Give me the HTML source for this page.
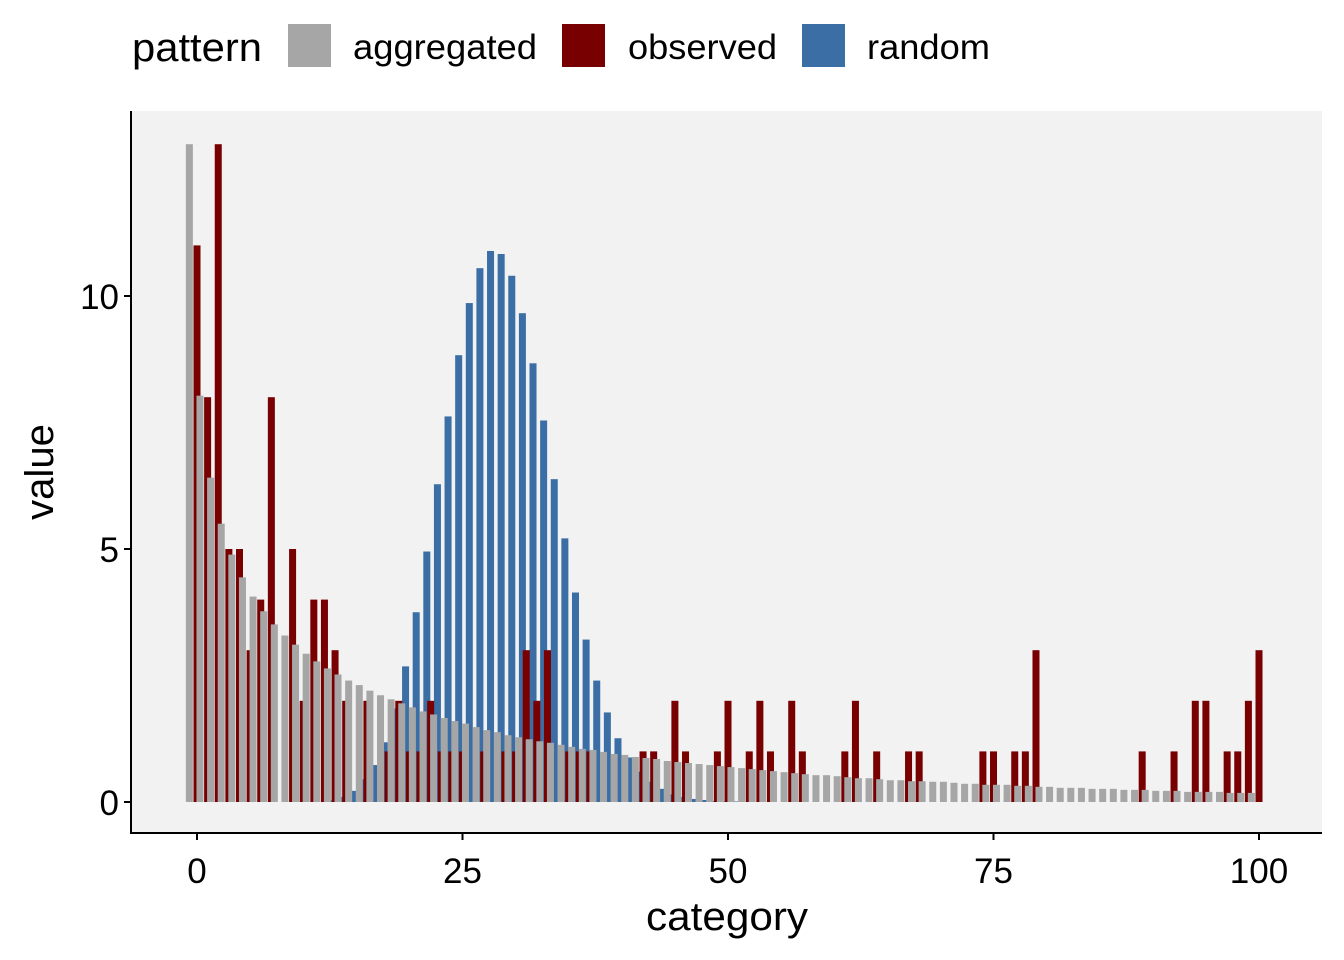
<!DOCTYPE html>
<html><head><meta charset="utf-8"><style>
html,body{margin:0;padding:0;background:#fff;}
svg{display:block;font-family:"Liberation Sans",Arial,sans-serif;}
</style></head><body>
<svg id="chart" width="1344" height="960" viewBox="0 0 1344 960" xmlns="http://www.w3.org/2000/svg">
<rect x="0" y="0" width="1344" height="960" fill="#ffffff"/>
<g>
<text x="132" y="61" font-size="40" fill="#000" textLength="130" lengthAdjust="spacingAndGlyphs">pattern</text>
<g><rect x="288" y="24" width="43" height="43" fill="#A6A6A6"/><text x="353" y="59" font-size="35" fill="#000" textLength="184" lengthAdjust="spacingAndGlyphs">aggregated</text></g>
<g><rect x="562" y="24" width="43" height="43" fill="#780000"/><text x="628" y="59" font-size="35" fill="#000" textLength="149" lengthAdjust="spacingAndGlyphs">observed</text></g>
<g><rect x="802" y="24" width="43" height="43" fill="#3A6EA5"/><text x="867" y="59" font-size="35" fill="#000" textLength="123" lengthAdjust="spacingAndGlyphs">random</text></g>
</g>
<rect x="131" y="111" width="1191" height="722" fill="#F2F2F2"/>
<g id="bars"></g>
<line x1="131" y1="111" x2="131" y2="834" stroke="#000" stroke-width="2"/>
<line x1="130" y1="833" x2="1322" y2="833" stroke="#000" stroke-width="2"/>
<g id="axes"></g>
<text x="727" y="930" font-size="40" text-anchor="middle" fill="#000" textLength="162" lengthAdjust="spacingAndGlyphs">category</text>
<text x="0" y="0" font-size="40" text-anchor="middle" fill="#000" transform="translate(53,472) rotate(-90)">value</text>
</svg>
<script>
const categories = Array.from({length:101},(_,i)=>i);
const aggregated = [13.0,8.03,6.41,5.50,4.89,4.44,4.06,3.77,3.51,3.29,3.11,2.93,2.78,2.64,2.52,2.40,2.31,2.20,2.11,2.03,1.95,1.87,1.79,1.73,1.66,1.60,1.55,1.48,1.42,1.38,1.32,1.28,1.24,1.20,1.17,1.13,1.09,1.05,1.03,0.99,0.95,0.93,0.89,0.87,0.85,0.81,0.79,0.77,0.75,0.73,0.71,0.69,0.67,0.65,0.63,0.61,0.59,0.57,0.55,0.53,0.53,0.51,0.49,0.47,0.47,0.45,0.43,0.43,0.41,0.41,0.40,0.40,0.38,0.36,0.36,0.34,0.34,0.34,0.32,0.32,0.30,0.30,0.28,0.28,0.28,0.26,0.26,0.26,0.24,0.24,0.24,0.22,0.22,0.22,0.20,0.20,0.20,0.20,0.18,0.18,0.18];
const observed = [11,8,13,5,5,3,4,8,0,5,2,4,4,3,2,0,2,0,1,2,1,1,2,1,1,1,0,1,0,1,1,3,2,3,0,1,1,1,0,0,0,0,1,1,0,2,1,0,0,1,2,0,1,2,1,0,2,1,0,0,0,1,2,0,1,0,0,1,1,0,0,0,0,0,1,1,0,1,1,3,0,0,0,0,0,0,0,0,0,1,0,0,1,0,2,2,0,1,1,2,3];
const random = [0,0,0,0,0,0,0,0,0,0,0,0,0,0.03,0.1,0.22,0.45,0.73,1.18,1.85,2.68,3.75,4.95,6.28,7.62,8.83,9.86,10.55,10.89,10.83,10.40,9.66,8.67,7.54,6.38,5.21,4.14,3.21,2.40,1.77,1.26,0.88,0.6,0.4,0.26,0.15,0.1,0.06,0.04,0.02,0.01,0.01,0,0,0,0,0,0,0,0,0,0,0,0,0,0,0,0,0,0,0,0,0,0,0,0,0,0,0,0,0,0,0,0,0,0,0,0,0,0,0,0,0,0,0,0,0,0,0,0,0];
const xTicks = [0,25,50,75,100];
const yTicks = [0,5,10];

const NS="http://www.w3.org/2000/svg";
const xScale = v => 197 + v*10.62;
const yScale = v => 802 - v*50.6;
const bw = 0.66;
const bars = document.getElementById('bars');
function bar(c, off, v, color, name){
  if(v<=0) return;
  const r=document.createElementNS(NS,'rect');
  const x0=xScale(c+off-bw/2), x1=xScale(c+off+bw/2);
  r.setAttribute('x',x0.toFixed(2));
  r.setAttribute('width',(x1-x0).toFixed(2));
  r.setAttribute('y',yScale(v).toFixed(2));
  r.setAttribute('height',(yScale(0)-yScale(v)).toFixed(2));
  r.setAttribute('fill',color);
  
  
  bars.appendChild(r);
}
categories.forEach((c,i)=>bar(c,-0.36,random[i],'#3A6EA5','bar-random-'+c));
categories.forEach((c,i)=>bar(c,0,observed[i],'#780000','bar-observed-'+c));
categories.forEach((c,i)=>bar(c,-0.72,aggregated[i],'#A6A6A6','bar-aggregated-'+c));

const axes=document.getElementById('axes');
xTicks.forEach(t=>{
  const l=document.createElementNS(NS,'line');
  l.setAttribute('x1',xScale(t));l.setAttribute('x2',xScale(t));
  l.setAttribute('y1',833);l.setAttribute('y2',840);
  l.setAttribute('stroke','#000');l.setAttribute('stroke-width','2');
  
  
  axes.appendChild(l);
  const tx=document.createElementNS(NS,'text');
  tx.setAttribute('x',xScale(t));tx.setAttribute('y',883);
  tx.setAttribute('font-size','35');tx.setAttribute('text-anchor','middle');tx.setAttribute('fill','#000');
  tx.textContent=t;
  
  
  axes.appendChild(tx);
});
yTicks.forEach(t=>{
  const l=document.createElementNS(NS,'line');
  l.setAttribute('x1',124);l.setAttribute('x2',131);
  l.setAttribute('y1',yScale(t));l.setAttribute('y2',yScale(t));
  l.setAttribute('stroke','#000');l.setAttribute('stroke-width','2');
  
  
  axes.appendChild(l);
  const tx=document.createElementNS(NS,'text');
  tx.setAttribute('x',119);tx.setAttribute('y',yScale(t)+13);
  tx.setAttribute('font-size','35');tx.setAttribute('text-anchor','end');tx.setAttribute('fill','#000');
  tx.textContent=t;
  
  
  axes.appendChild(tx);
});
</script>
</body></html>
